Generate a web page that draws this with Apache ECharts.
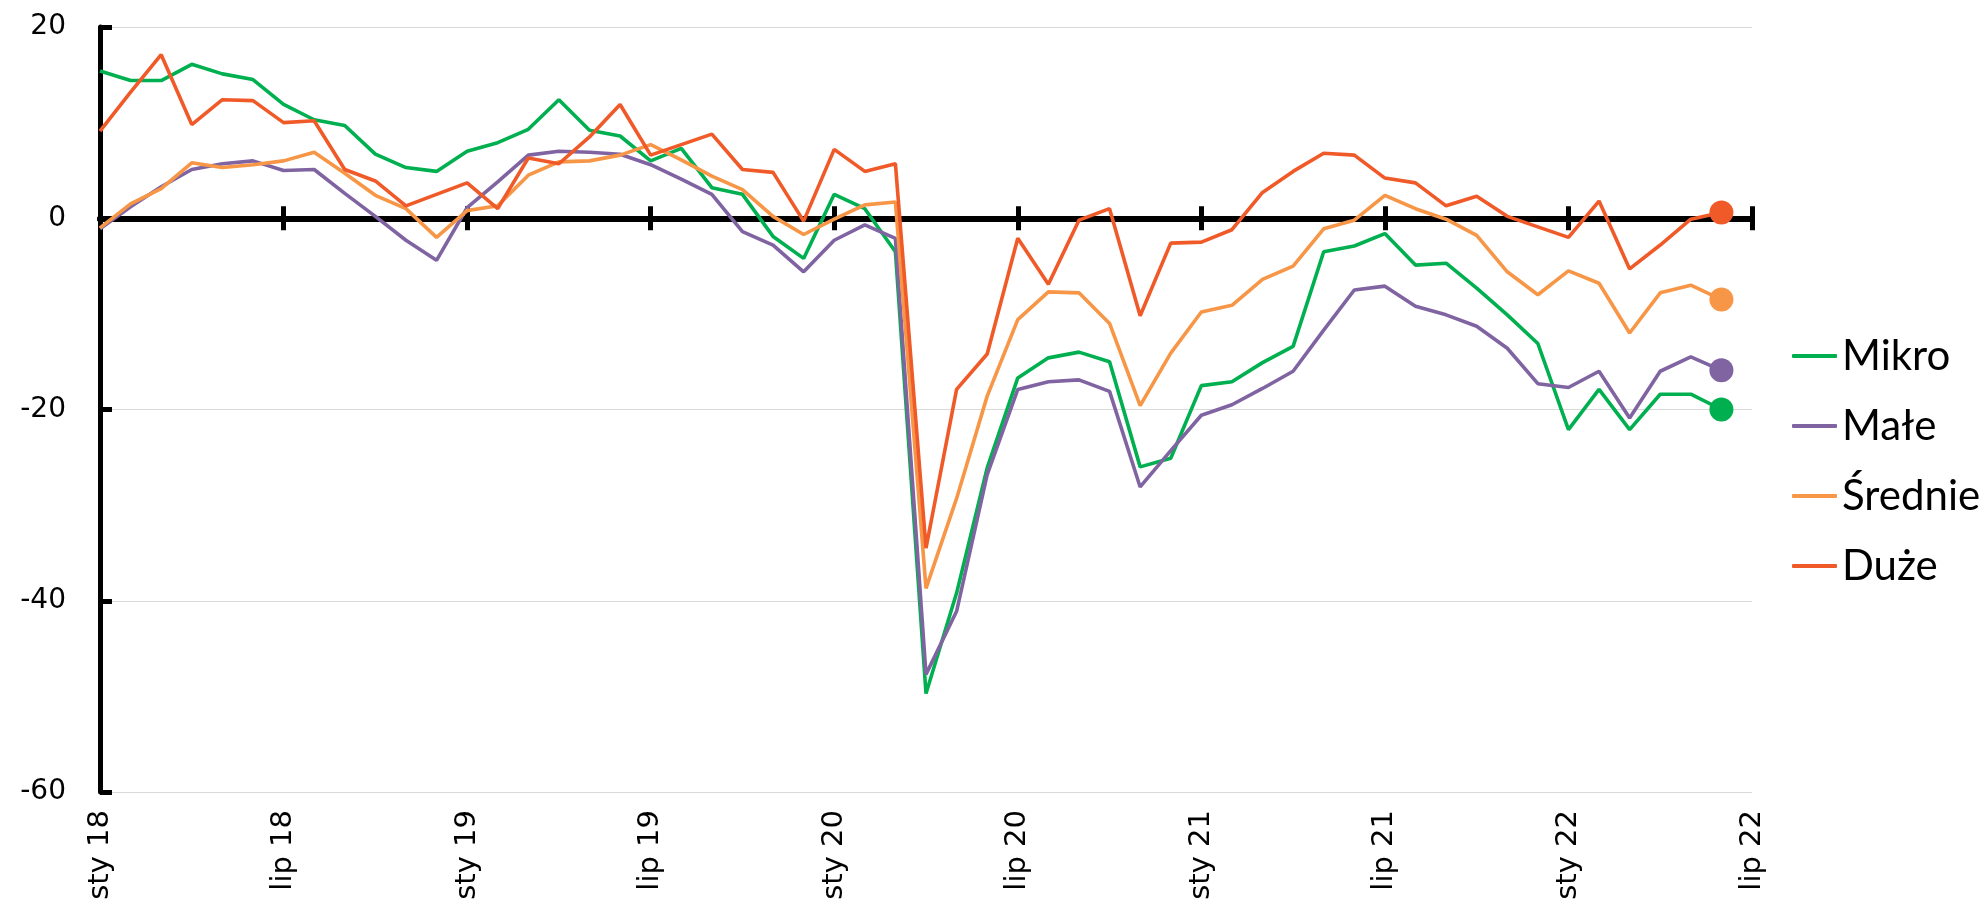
<!DOCTYPE html>
<html>
<head>
<meta charset="utf-8">
<script src="https://cdn.jsdelivr.net/npm/echarts@6/dist/echarts.min.js"></script>
<style>
html,body{margin:0;padding:0;background:#fff;}
#chart{width:1988px;height:908px;}
</style>
</head>
<body>
<div id="chart"></div>
<script>
// Month abbreviations (Polish) and years used for category labels
const monthNames = ['sty','lut','mar','kwi','maj','cze','lip','sie','wrz','paź','lis','gru'];
const years = ['18','19','20','21','22'];
// categories: sty 18 ... lip 22
const categories = [];
for (const y of years) {
  for (const m of monthNames) {
    categories.push(m + ' ' + y);
    if (y === '22' && m === 'lip') break;
  }
}

const seriesNames = ['Mikro', 'Małe', 'Średnie', 'Duże'];

const mikro = [15.4, 14.4, 14.4, 16.1, 15.1, 14.5, 11.9, 10.3, 9.7, 6.7, 5.3, 4.9, 7.0, 7.9,
  9.3, 12.4, 9.2, 8.6, 6.0, 7.3, 3.2, 2.5, -1.9, -4.2, 2.5, 1.0, -3.5,
  -49.7, -39.2, -26.1, -16.7, -14.6, -14.0, -15.0, -26.0, -25.1, -17.5, -17.1, -15.1, -13.4, -3.5,
  -2.9, -1.6, -4.9, -4.7, -7.3, -10.1, -13.1, -22.1, -17.9, -22.1, -18.4, -18.4, -20.0];

const male = [-1.1, 1.2, 3.3, 5.1, 5.7, 6.0, 5.0, 5.1, 2.6, 0.2, -2.3, -4.4, 1.1, 3.8,
  6.6, 7.0, 6.9, 6.7, 5.6, 4.1, 2.5, -1.4, -2.8, -5.6, -2.3, -0.7, -2.1,
  -47.7, -41.1, -26.8, -17.9, -17.1, -16.9, -18.1, -28.1, -24.3, -20.6, -19.5, -17.8, -16.0, -11.7,
  -7.5, -7.1, -9.2, -10.1, -11.3, -13.6, -17.3, -17.7, -16.0, -20.9, -16.0, -14.5, -15.9];

const srednie = [-1.0, 1.5, 3.1, 5.8, 5.3, 5.6, 6.0, 6.9, 4.7, 2.4, 1.0, -2.0, 0.8, 1.3,
  4.5, 5.9, 6.0, 6.6, 7.7, 6.1, 4.4, 3.0, 0.2, -1.7, -0.1, 1.4, 1.7,
  -38.7, -29.3, -18.6, -10.6, -7.7, -7.8, -11.0, -19.6, -14.1, -9.8, -9.1, -6.4, -5.0, -1.1,
  -0.2, 2.4, 1.0, -0.1, -1.8, -5.6, -8.0, -5.5, -6.8, -12.0, -7.8, -7.0, -8.5];

const duze = [9.1, 13.2, 17.1, 9.8, 12.4, 12.3, 10.0, 10.2, 5.1, 3.9, 1.3, 2.5, 3.7, 1.0,
  6.3, 5.7, 8.5, 11.9, 6.6, 7.7, 8.8, 5.1, 4.8, -0.3, 7.2, 4.9, 5.7,
  -34.5, -17.9, -14.2, -2.1, -6.9, -0.2, 1.0, -10.2, -2.6, -2.5, -1.2, 2.7, 4.9, 6.8,
  6.6, 4.2, 3.7, 1.3, 2.3, 0.2, -0.9, -2.0, 1.8, -5.3, -2.8, -0.1, 0.6];

const yTicks = { min: -60, max: 20, interval: 20 };

const colors = ['#00B050', '#8064A2', '#F79646', '#F05A28'];
const allData = [mikro, male, srednie, duze];

const chart = echarts.init(document.getElementById('chart'), null, { renderer: 'canvas' });

const series = allData.map((d, k) => ({
  name: seriesNames[k],
  type: 'line',
  data: d,
  xAxisIndex: 0,
  yAxisIndex: 0,
  color: colors[k],
  lineStyle: { width: 3.6, color: colors[k] },
  itemStyle: { color: colors[k] },
  symbol: 'circle',
  showSymbol: true,
  showAllSymbol: true,
  symbolSize: (val, params) => (params.dataIndex === d.length - 1 ? 24 : 0),
  emphasis: { disabled: true },
  z: 3 + k
}));

const option = {
  animation: false,
  backgroundColor: '#ffffff',
  grid: { left: 100, right: 236, top: 27, bottom: 116, containLabel: false },
  legend: {
    orient: 'vertical',
    left: 1792,
    top: 335,
    padding: 0,
    icon: 'roundRect',
    itemWidth: 45,
    itemHeight: 4,
    itemGap: 28,
    data: seriesNames,
    textStyle: { fontFamily: 'Lato', fontSize: 42, color: '#000', lineHeight: 40 }
  },
  xAxis: [
    {
      type: 'category',
      data: categories,
      boundaryGap: false,
      position: 'bottom',
      axisLine: { show: false, onZero: false },
      axisTick: { show: false },
      splitLine: { show: false },
      axisLabel: {
        interval: 5,
        rotate: 90,
        margin: 18,
        fontFamily: 'DejaVu Sans',
        fontSize: 29,
        color: '#000'
      }
    },
    {
      type: 'category',
      data: categories,
      boundaryGap: false,
      position: 'bottom',
      axisLine: { show: true, onZero: true, onZeroAxisIndex: 0, lineStyle: { color: '#000', width: 6 } },
      axisTick: { show: true, interval: 5, length: 12, lineStyle: { color: '#000', width: 5 } },
      axisLabel: { show: false },
      splitLine: { show: false }
    },
    {
      type: 'category',
      data: categories,
      boundaryGap: false,
      position: 'top',
      axisLine: { show: true, onZero: true, onZeroAxisIndex: 1, lineStyle: { color: '#000', width: 6 } },
      axisTick: { show: true, interval: 5, length: 12, lineStyle: { color: '#000', width: 5 } },
      axisLabel: { show: false },
      splitLine: { show: false }
    }
  ],
  yAxis: [
    {
      type: 'value',
      min: yTicks.min,
      max: yTicks.max,
      interval: yTicks.interval,
      axisLine: { show: true, onZero: false, lineStyle: { color: '#000', width: 5 } },
      axisTick: { show: true, inside: true, length: 12, lineStyle: { color: '#000', width: 5 } },
      axisLabel: { margin: 34, fontFamily: 'DejaVu Sans', fontSize: 28, color: '#000' },
      splitLine: { show: true, lineStyle: { color: '#D9D9D9', width: 1 } }
    },
    {
      type: 'value',
      min: yTicks.min,
      max: yTicks.max,
      interval: yTicks.interval,
      axisLine: { show: false, onZero: false },
      axisTick: { show: false },
      axisLabel: { show: false },
      splitLine: { show: false }
    }
  ],
  series: series
};

chart.setOption(option);
</script>
</body>
</html>
